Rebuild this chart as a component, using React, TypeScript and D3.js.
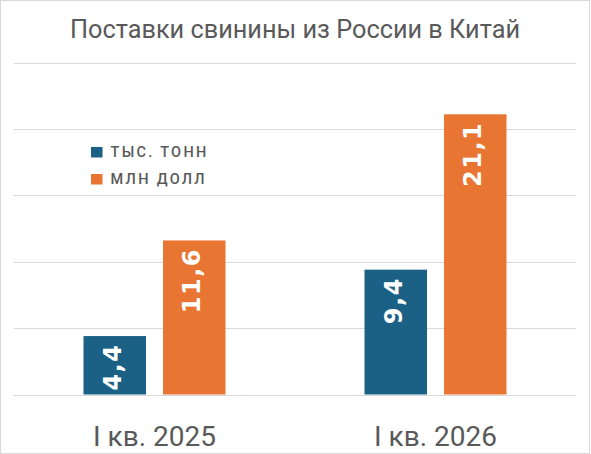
import React from "react";
import * as d3 from "d3";

const categories = ["I кв. 2025", "I кв. 2026"];
const seriesNames = ["ТЫС. ТОНН", "МЛН ДОЛЛ"];
const tonnes = [4.4, 9.4];
const dollars = [11.6, 21.1];
const labelTonnes = ["4,4", "9,4"];
const labelDollars = ["11,6", "21,1"];
const yTicks = [0, 5, 10, 15, 20, 25];
const colors = ["#1a6185", "#e97532"];

const W = 591;
const H = 454;

export default function App() {
  const left = 14;
  const right = 576;
  const baseline = 394.5;
  const top = 62.5;

  const x0 = d3
    .scaleBand<string>()
    .domain(categories)
    .range([left, right])
    .paddingInner(0.4947)
    .paddingOuter(0.2473);
  const x1 = d3
    .scaleBand<string>()
    .domain(seriesNames)
    .range([0, x0.bandwidth()])
    .paddingInner(0.214)
    .paddingOuter(0);
  const y = d3.scaleLinear().domain([0, 25]).range([baseline, top]);

  const series = [
    { name: seriesNames[0], values: tonnes, labels: labelTonnes, color: colors[0] },
    { name: seriesNames[1], values: dollars, labels: labelDollars, color: colors[1] },
  ];

  const ls = 1.5;

  return (
    <svg
      width={W}
      height={H}
      style={{ position: "absolute", left: 0, top: 0, background: "#fff" }}
    >
      <rect x={0.5} y={0.5} width={W - 2} height={H - 1} fill="#fff" stroke="#d9d9d9" strokeWidth={1} />
      <text
        x={295}
        y={38}
        textAnchor="middle"
        fontFamily="Roboto"
        fontSize={25.3}
        fill="#595959"
      >
        Поставки свинины из России в Китай
      </text>
      {yTicks.map((t) => (
        <line
          key={t}
          x1={left}
          x2={right}
          y1={Math.round(y(t)) + 0.5}
          y2={Math.round(y(t)) + 0.5}
          stroke="#d9d9d9"
          strokeWidth={1}
        />
      ))}
      {categories.map((c, i) => (
        <g key={c} transform={`translate(${x0(c)},0)`}>
          {series.map((s) => {
            const bx = x1(s.name)!;
            const bw = x1.bandwidth();
            const by = y(s.values[i]);
            const cx = bx + bw / 2;
            return (
              <g key={s.name}>
                <rect x={bx} y={by} width={bw} height={baseline - by} fill={s.color} />
                <text
                  transform={`translate(${cx - 2},${by + 9 - ls}) rotate(-90)`}
                  textAnchor="end"
                  dominantBaseline="central"
                  fontFamily="DejaVu Sans"
                  fontWeight="bold"
                  fontSize={24}
                  letterSpacing={ls}
                  fill="#fff"
                >
                  {s.labels[i]}
                </text>
              </g>
            );
          })}
          <text
            x={x0.bandwidth() / 2}
            y={446}
            textAnchor="middle"
            fontFamily="Roboto"
            fontSize={28}
            fill="#595959"
          >
            {c}
          </text>
        </g>
      ))}
      {series.map((s, i) => (
        <g key={s.name} transform={`translate(91,${147 + i * 27})`}>
          <rect x={0} y={0} width={11.5} height={10.5} fill={s.color} />
          <text
            x={19.5}
            y={5.5}
            dominantBaseline="central"
            fontFamily="Roboto"
            fontWeight={500}
            fontSize={14.5}
            letterSpacing={2.3}
            fill="#595959"
          >
            {s.name}
          </text>
        </g>
      ))}
    </svg>
  );
}
